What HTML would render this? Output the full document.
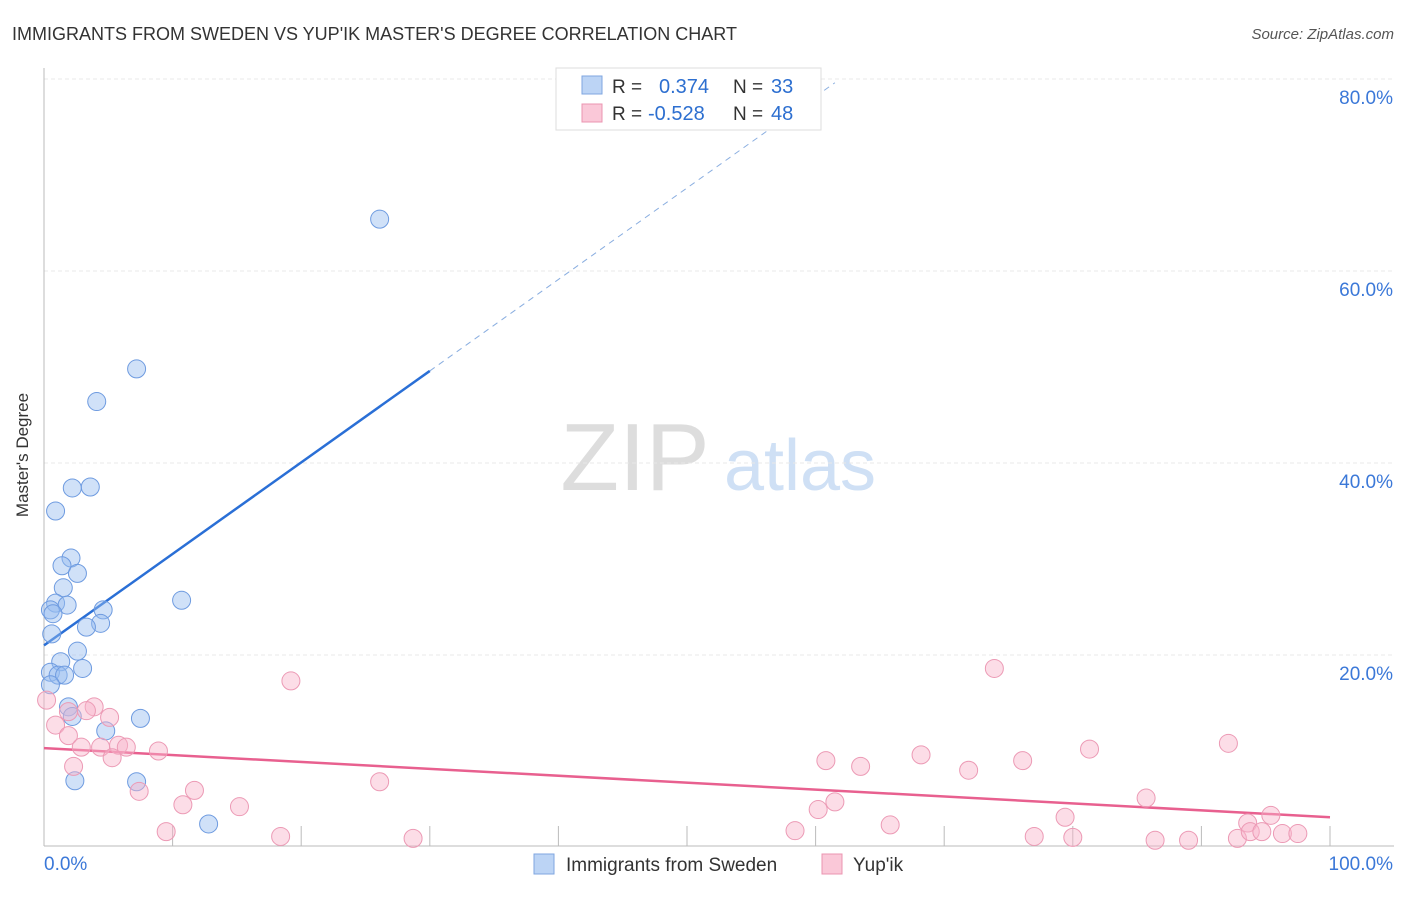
<!DOCTYPE html>
<html><head><meta charset="utf-8"><style>
body{margin:0;background:#fff;font-family:"Liberation Sans",sans-serif;}
svg text{font-family:"Liberation Sans",sans-serif;}
</style></head><body>
<svg id="chart" width="1406" height="892" xmlns="http://www.w3.org/2000/svg">
<text x="12" y="40" font-size="18" fill="#333">IMMIGRANTS FROM SWEDEN VS YUP'IK MASTER'S DEGREE CORRELATION CHART</text>
<text x="1394" y="39" font-size="15" fill="#555" text-anchor="end" font-style="italic">Source: ZipAtlas.com</text>
<text x="28" y="455" font-size="17" fill="#333" text-anchor="middle" transform="rotate(-90 28 455)">Master's Degree</text>
<g><text x="635" y="490" font-size="96" fill="#ddd" font-family="Liberation Serif" text-anchor="middle">ZIP</text><text x="800" y="490" font-size="72" fill="#cfe0f5" text-anchor="middle">atlas</text></g>
<g id="grid"></g><g id="axes"></g><g id="trend"></g><g id="pts"></g>
<g>
<rect x="556" y="68" width="265" height="62" fill="#fff" stroke="#ddd"/>
<rect x="582" y="76" width="20" height="18" fill="#bcd4f5" stroke="#7fa6e0"/>
<rect x="582" y="104" width="20" height="18" fill="#fac8d8" stroke="#eb94b0"/>
<text x="612" y="93" font-size="19" fill="#333">R =</text><text x="659" y="93" font-size="20" fill="#2d6fd0">0.374</text>
<text x="733" y="93" font-size="19" fill="#333">N =</text><text x="771" y="93" font-size="20" fill="#2d6fd0">33</text>
<text x="612" y="120" font-size="19" fill="#333">R =</text><text x="648" y="120" font-size="20" fill="#2d6fd0">-0.528</text>
<text x="733" y="120" font-size="19" fill="#333">N =</text><text x="771" y="120" font-size="20" fill="#2d6fd0">48</text>
</g>
<g>
<rect x="534" y="854" width="20" height="20" fill="#bcd4f5" stroke="#7fa6e0"/><text x="566" y="871" font-size="19" fill="#333">Immigrants from Sweden</text>
<rect x="822" y="854" width="20" height="20" fill="#fac8d8" stroke="#eb94b0"/><text x="853" y="871" font-size="19" fill="#333">Yup'ik</text>
</g>
</svg>
<script>
const yTicks=[20,40,60,80];
const yTickLabels=["20.0%","40.0%","60.0%","80.0%"];
const xTickLabels=["0.0%","100.0%"];
const blueX=[26.1,7.2,4.1,2.2,3.6,0.9,2.1,1.4,2.6,1.5,0.9,1.8,0.5,0.7,4.6,4.4,3.3,10.7,0.6,2.6,1.3,3.0,0.5,1.1,1.6,0.5,1.9,2.2,7.5,4.8,2.4,7.2,12.8];
const blueY=[65.4,49.8,46.4,37.4,37.5,35,30.1,29.3,28.5,27,25.4,25.2,24.7,24.3,24.7,23.3,22.9,25.7,22.2,20.4,19.3,18.6,18.2,17.9,17.9,16.9,14.6,13.6,13.4,12.1,6.9,6.8,2.4];
const pinkX=[0.2,19.2,73.9,1.9,3.9,3.3,5.1,0.9,1.9,2.9,4.4,5.8,6.4,8.9,5.3,2.3,7.4,11.7,10.8,15.2,26.1,9.5,18.4,28.7,60.8,63.5,68.2,71.9,76.1,81.3,92.1,61.5,60.2,65.8,58.4,79.4,85.7,95.4,93.6,77.0,80.0,86.4,89.0,92.8,93.8,94.7,96.3,97.5];
const pinkY=[15.3,17.3,18.6,14.1,14.6,14.2,13.5,12.7,11.6,10.4,10.4,10.6,10.4,10,9.3,8.4,5.8,5.9,4.4,4.2,6.8,1.6,1.1,0.9,9.0,8.4,9.6,8.0,9.0,10.2,10.8,4.7,3.9,2.3,1.7,3.1,5.1,3.3,2.5,1.1,1.0,0.7,0.7,0.9,1.6,1.6,1.4,1.4];
const blueTrend=[21.0,0.953];
const pinkTrend=[10.3,-0.072];
const X=v=>44+v*12.86, Y=v=>847-v*9.6;
const NS="http://www.w3.org/2000/svg";
function mk(p,t,a){const e=document.createElementNS(NS,t);for(const k in a)e.setAttribute(k,a[k]);document.getElementById(p).appendChild(e);return e;}
yTicks.forEach((t,i)=>{
 const g=mk('grid','line',{x1:44,x2:1394,y1:Y(t),y2:Y(t),stroke:'#e8e8e8','stroke-dasharray':'4 3'});
 
 
 const l=mk('grid','text',{x:1393,y:Y(t)+25,'font-size':19,fill:'#3b78d8','text-anchor':'end'});l.textContent=yTickLabels[i];
 
 
});
let a=mk('axes','line',{x1:44,x2:44,y1:68,y2:846,stroke:'#bbb'});


a=mk('axes','line',{x1:44,x2:1394,y1:846,y2:846,stroke:'#bbb'});


for(let i=1;i<=10;i++){const t=mk('axes','line',{x1:X(i*10),x2:X(i*10),y1:826,y2:846,stroke:'#bbb'});
 
 }
let xl=mk('axes','text',{x:44,y:870,'font-size':19,fill:'#3b78d8'});xl.textContent=xTickLabels[0];


xl=mk('axes','text',{x:1393,y:870,'font-size':19,fill:'#3b78d8','text-anchor':'end'});xl.textContent=xTickLabels[1];


const bt=x=>blueTrend[0]+blueTrend[1]*x, pt=x=>pinkTrend[0]+pinkTrend[1]*x;
let tl=mk('trend','line',{x1:X(0),y1:Y(bt(0)),x2:X(30),y2:Y(bt(30)),stroke:'#2a6fd6','stroke-width':2.5});


tl=mk('trend','line',{x1:X(30),y1:Y(bt(30)),x2:X(61.5),y2:Y(bt(61.5)),stroke:'#8aaee0','stroke-width':1,'stroke-dasharray':'6 5'});


tl=mk('trend','line',{x1:X(0),y1:Y(pt(0)),x2:X(100),y2:Y(pt(100)),stroke:'#e8608f','stroke-width':2.5});


blueX.forEach((x,i)=>{const c=mk('pts','circle',{cx:X(x),cy:Y(blueY[i]),r:9,fill:'rgba(150,188,240,0.45)',stroke:'#6e9be0','stroke-width':1});
 
 });
pinkX.forEach((x,i)=>{const c=mk('pts','circle',{cx:X(x),cy:Y(pinkY[i]),r:9,fill:'rgba(248,180,202,0.45)',stroke:'#ec9ab5','stroke-width':1});
 
 });
</script>
</body></html>
